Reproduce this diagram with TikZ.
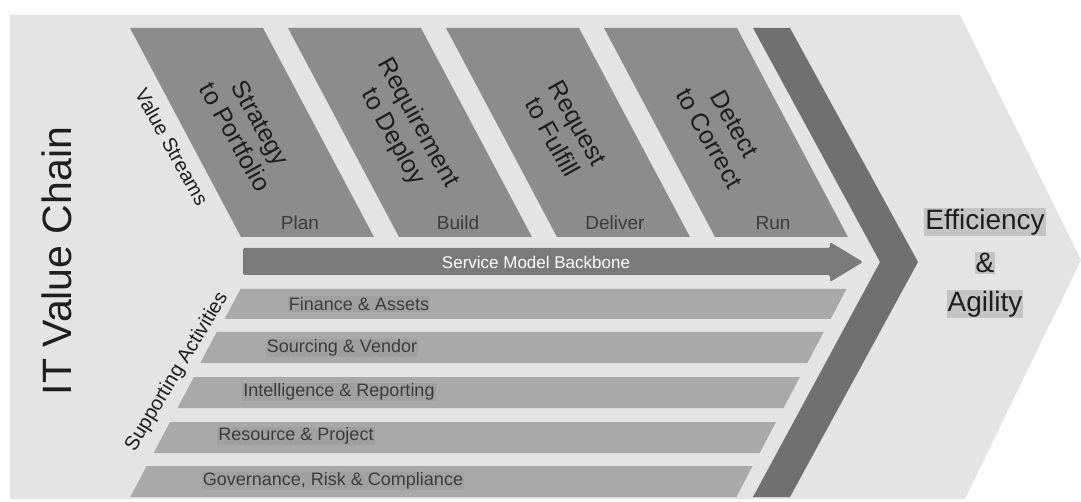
\documentclass[tikz,border=0pt]{standalone}
\usepackage{fontspec}
\setmainfont{Liberation Sans}
\definecolor{bggray}{HTML}{E4E4E4}
\definecolor{streamgray}{HTML}{8C8C8C}
\definecolor{chevgray}{HTML}{707070}
\definecolor{backgray}{HTML}{7A7A7A}
\definecolor{bargray}{HTML}{A9A9A9}
\definecolor{barhl}{HTML}{A0A0A0}
\definecolor{outhl}{HTML}{C4C4C4}
\definecolor{darktxt}{HTML}{1E1E1E}
\definecolor{phasetxt}{HTML}{3C3C3C}
\begin{document}
\begin{tikzpicture}[x=1pt,y=-1pt,
  streamtxt/.style={rotate=-61, align=center, text=darktxt, inner sep=0pt,
    font=\fontsize{25}{29}\selectfont},
  phase/.style={text=phasetxt, inner sep=0pt, font=\fontsize{19}{22}\selectfont},
  bartxt/.style={text=phasetxt, fill=barhl, inner sep=1pt, font=\fontsize{18}{21}\selectfont},
  outtxt/.style={text=darktxt, fill=outhl, inner sep=1pt, font=\fontsize{28}{32}\selectfont},
  sidetxt/.style={text=darktxt, inner sep=0pt}]
\useasboundingbox (0,0) rectangle (1081,502);
% background arrow
\fill[bggray] (10,15) -- (960,15) -- (1081,260) -- (965,499) -- (10,499) -- cycle;
% value stream parallelograms
\foreach \x in {130,288,446,604}{
  \fill[streamgray] (\x,28) -- (\x+133,28) -- (\x+244,237) -- (\x+111,237) -- cycle;
}
% chevron
\fill[chevgray] (753,28) -- (790,28) -- (918,262) -- (790,497) -- (753,497) -- (880,262) -- cycle;
% backbone arrow
\fill[backgray, rounded corners=1.5pt] (243,248) -- (830,248) -- (830,242) -- (863,262)
  -- (830,282) -- (830,275) -- (243,275) -- cycle;
% supporting bars
\fill[bargray] (240.5,289) -- (846.5,289) -- (830.6,319) -- (224.6,319) -- cycle;
\fill[bargray] (216.7,332) -- (823.7,332) -- (807.3,363) -- (200.3,363) -- cycle;
\fill[bargray] (193.9,377) -- (799.9,377) -- (783.5,408) -- (177.5,408) -- cycle;
\fill[bargray] (170.0,422) -- (776.0,422) -- (759.6,453) -- (153.6,453) -- cycle;
\fill[bargray] (146.7,466) -- (752.7,466) -- (736.3,497) -- (130.3,497) -- cycle;
% texts
\node[sidetxt, rotate=90, font=\fontsize{41}{46}\selectfont] (itvc) at (57,261) {IT Value Chain};
\node[sidetxt, rotate=-61, font=\fontsize{20}{23}\selectfont] (vs) at (172,147) {Value Streams};
\node[sidetxt, rotate=59, font=\fontsize{20}{23}\selectfont] (sa) at (177,372) {Supporting Activities};
\node[streamtxt] (s2p) at (248,130) {Strategy\\to Portfolio};
\node[streamtxt] (r2d) at (405,130) {Requirement\\to Deploy};
\node[streamtxt] (r2f) at (565,130) {Request\\to Fulfill};
\node[streamtxt] (d2c) at (722,131) {Detect\\to Correct};
\node[phase] (plan) at (300,223) {Plan};
\node[phase] (build) at (458,223) {Build};
\node[phase] (deliver) at (615,223) {Deliver};
\node[phase] (run) at (773,223) {Run};
\node[text=white, inner sep=0pt, font=\fontsize{17}{20}\selectfont] (smb) at (536,262) {Service Model Backbone};
\node[bartxt] (fa) at (359,304) {Finance \& Assets};
\node[bartxt] (sv) at (342,348) {Sourcing \& Vendor};
\node[bartxt] (ir) at (339,392) {Intelligence \& Reporting};
\node[bartxt] (rp) at (296,436) {Resource \& Project};
\node[bartxt] (grc) at (333,481) {Governance, Risk \& Compliance};
\node[outtxt] (eff) at (985,222) {Efficiency};
\node[outtxt] (amp) at (985,263) {\&};
\node[outtxt] (agi) at (985,304) {Agility};
\end{tikzpicture}
\end{document}
